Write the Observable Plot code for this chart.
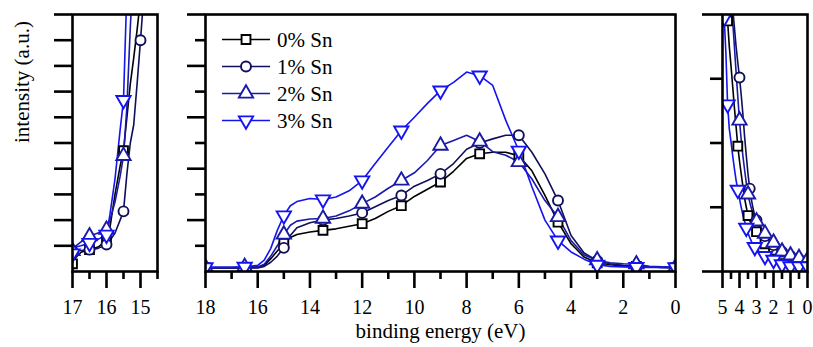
<!DOCTYPE html>
<html>
<head>
<meta charset="utf-8">
<script src="https://cdn.jsdelivr.net/npm/d3@7"></script>
<script src="https://cdn.jsdelivr.net/npm/@observablehq/plot@0.6"></script>
<style>
  html, body { margin: 0; padding: 0; background: #fff; }
  #chart { position: relative; width: 813px; height: 347px; overflow: hidden; }
  #chart > svg { position: absolute; top: 0; }
  #chart text { font-family: "Liberation Serif", "Times New Roman", serif; }
</style>
</head>
<body>
<div id="chart"></div>
<script>
// ---------------- data ----------------
const seriesNames = ["0% Sn", "1% Sn", "2% Sn", "3% Sn"];
const seriesColors = ["#000000", "#10105a", "#1a1aa8", "#1414f0"];

// main panel (binding energy in eV, intensity in a.u.)
const mainE = [18, 17.5, 17, 16.5, 16, 15.75, 15.5, 15.25, 15, 14.75, 14.5, 14, 13.5, 13, 12.5, 12, 11.5, 11, 10.5, 10, 9.5, 9, 8.5, 8, 7.5, 7, 6.5, 6, 5.5, 5, 4.5, 4, 3.5, 3, 2.5, 2, 1.5, 1, 0.5, 0];
const main0 = [0.07, 0.07, 0.07, 0.07, 0.08, 0.12, 0.25, 0.40, 0.55, 0.66, 0.72, 0.77, 0.80, 0.83, 0.88, 0.93, 1.03, 1.17, 1.28, 1.46, 1.60, 1.74, 1.95, 2.20, 2.29, 2.32, 2.32, 2.25, 1.96, 1.48, 0.96, 0.54, 0.28, 0.17, 0.13, 0.11, 0.10, 0.09, 0.08, 0.07];
const main1 = [0.07, 0.07, 0.07, 0.07, 0.07, 0.10, 0.18, 0.30, 0.46, 0.70, 0.85, 0.95, 1.00, 1.03, 1.08, 1.14, 1.26, 1.38, 1.48, 1.66, 1.77, 1.90, 2.10, 2.38, 2.50, 2.58, 2.65, 2.65, 2.32, 1.90, 1.38, 0.70, 0.36, 0.21, 0.15, 0.12, 0.10, 0.09, 0.08, 0.08];
const main2 = [0.08, 0.08, 0.08, 0.09, 0.09, 0.14, 0.30, 0.50, 0.72, 0.90, 0.98, 1.02, 1.03, 1.08, 1.18, 1.32, 1.45, 1.62, 1.77, 1.92, 2.16, 2.45, 2.55, 2.65, 2.53, 2.33, 2.26, 2.13, 1.80, 1.38, 1.06, 0.60, 0.32, 0.22, 0.17, 0.15, 0.14, 0.10, 0.09, 0.08];
const main3 = [0.08, 0.08, 0.08, 0.09, 0.12, 0.22, 0.45, 0.80, 1.09, 1.28, 1.36, 1.42, 1.40, 1.45, 1.57, 1.77, 2.10, 2.42, 2.74, 3.00, 3.27, 3.52, 3.68, 3.88, 3.81, 3.62, 2.94, 2.35, 1.65, 1.00, 0.60, 0.38, 0.24, 0.13, 0.10, 0.09, 0.085, 0.08, 0.08, 0.08];
const mainMarkE = [18, 16.5, 15, 13.5, 12, 10.5, 9, 7.5, 6, 4.5, 3, 1.5, 0];

// left inset (onset region, magnified intensity)
const leftE = [17, 16.9, 16.75, 16.5, 16.25, 16, 15.9, 15.75, 15.6, 15.5, 15.4, 15.3, 15.2, 15.1, 15, 14.9, 14.8];
const left0 = [0.30, 0.55, 0.75, 0.85, 0.95, 1.20, 1.70, 3.00, 4.10, 4.70, 6.00, 7.30, 8.30, 9.40, 10.6, 12.0, 13.0];
const left1 = [0.80, 0.80, 0.82, 0.85, 0.90, 1.05, 1.20, 1.50, 2.00, 2.34, 3.80, 5.00, 5.70, 7.30, 9.00, 10.8, 12.5];
const left2 = [0.80, 1.00, 1.15, 1.37, 1.50, 1.63, 2.00, 2.70, 3.70, 4.50, 6.40, 9.50, 12.0, 14.0, 15.0, 16.0, 17.0];
const left3 = [0.70, 0.95, 1.00, 1.11, 1.25, 1.43, 2.20, 3.60, 5.50, 6.67, 11.0, 14.0, 15.0, 16.0, 17.0, 18.0, 19.0];
const leftMarkE = [17, 16.5, 16, 15.5, 15];

// right inset (valence band edge, magnified intensity)
const rightE = [5.2, 5.0, 4.9, 4.8, 4.7, 4.6, 4.5, 4.4, 4.3, 4.2, 4.1, 4.0, 3.9, 3.8, 3.7, 3.6, 3.5, 3.4, 3.3, 3.2, 3.1, 3.0, 2.75, 2.5, 2.25, 2.0, 1.75, 1.5, 1.25, 1.0, 0.75, 0.5, 0.25, 0];
const right0 = [6.0, 5.2, 4.7, 4.3, 3.9, 3.5, 3.2, 2.88, 2.55, 2.25, 1.95, 1.72, 1.52, 1.33, 1.14, 1.00, 0.87, 0.80, 0.73, 0.68, 0.65, 0.62, 0.52, 0.43, 0.38, 0.33, 0.29, 0.26, 0.22, 0.19, 0.17, 0.14, 0.13, 0.12];
const right1 = [9.0, 8.0, 7.5, 6.5, 5.6, 4.9, 4.45, 4.1, 3.8, 3.5, 3.25, 3.02, 2.75, 2.45, 2.10, 1.80, 1.52, 1.29, 1.12, 0.98, 0.87, 0.80, 0.65, 0.55, 0.47, 0.41, 0.35, 0.31, 0.27, 0.24, 0.22, 0.19, 0.18, 0.17];
const right2 = [9.0, 7.5, 6.8, 6.0, 5.3, 4.7, 4.25, 3.9, 3.5, 3.1, 2.72, 2.35, 2.05, 1.80, 1.58, 1.38, 1.20, 1.08, 0.98, 0.90, 0.83, 0.78, 0.67, 0.59, 0.51, 0.45, 0.38, 0.31, 0.27, 0.25, 0.23, 0.21, 0.20, 0.18];
const right3 = [6.0, 4.4, 3.95, 3.4, 2.6, 2.22, 2.02, 1.80, 1.60, 1.42, 1.27, 1.13, 1.00, 0.88, 0.78, 0.68, 0.60, 0.53, 0.47, 0.42, 0.38, 0.35, 0.29, 0.24, 0.21, 0.18, 0.14, 0.11, 0.09, 0.08, 0.08, 0.08, 0.08, 0.08];
const rightMark0 = [4.7, 4.1, 3.5, 3.0, 2.5, 2.0, 1.5, 1.0, 0.5, 0];
const rightMark1 = [4.0, 3.4, 3.0, 2.5, 2.0, 1.5, 1.0, 0.5, 0];
const rightMark2 = [4.0, 3.5, 3.0, 2.5, 2.0, 1.5, 1.0, 0.5, 0];
const rightMark3 = [4.9, 4.7, 4.1, 3.6, 3.1, 2.5, 2.0, 1.5, 1.0, 0.5, 0];

// axis tick values
const mainXMajor = [18, 16, 14, 12, 10, 8, 6, 4, 2, 0];
const mainXMinor = [17, 15, 13, 11, 9, 7, 5, 3, 1];
const mainYMajor = [1, 2, 3, 4, 5];
const mainYMinor = [0.5, 1.5, 2.5, 3.5, 4.5];
const leftXMajor = [17, 16, 15];
const leftXMinor = [16.5, 15.5, 14.5];
const leftYTicks = [1, 2, 3, 4, 5, 6, 7, 8, 9, 10];
const rightXMajor = [5, 4, 3, 2, 1, 0];
const rightXMinor = [4.5, 3.5, 2.5, 1.5, 0.5];
const rightYLong = [0, 4];
const rightYShort = [1, 2, 3];

const xTitle = "binding energy (eV)";
const yTitle = "intensity (a.u.)";

// ---------------- helpers ----------------
const FONT = "Liberation Serif, Times New Roman, serif";
const AXW = 2.6;

const triDown = {
  draw(ctx, size) {
    const s3 = Math.sqrt(3);
    const y = Math.sqrt(size / (s3 * 3));
    ctx.moveTo(0, 2 * y);
    ctx.lineTo(s3 * y, -y);
    ctx.lineTo(-s3 * y, -y);
    ctx.closePath();
  }
};
const seriesSymbols = ["square", "circle", "triangle", triDown];
const d3Symbols = [d3.symbolSquare, d3.symbolCircle, d3.symbolTriangle, triDown];
const seriesR = [5, 5, 5.3, 5.3];

function rows(E, vals) { return E.map((e, i) => ({E: e, v: vals[i]})); }
function pick(E, vals, marks) {
  return marks.map(m => ({E: m, v: vals[E.indexOf(m)]})).filter(d => d.v !== undefined);
}

function panel(cfg) {
  const marks = [];
  cfg.lines.forEach((ln, i) => {
    marks.push(Plot.line(ln, {x: "E", y: "v", stroke: seriesColors[i], strokeWidth: 1.6, clip: true}));
  });
  cfg.dots.forEach((dt, i) => {
    marks.push(Plot.dot(dt, {x: "E", y: "v", symbol: seriesSymbols[i], r: seriesR[i], stroke: seriesColors[i], fill: "white", strokeWidth: 1.9, clip: true}));
  });
  marks.push(Plot.frame({stroke: "black", strokeWidth: AXW}));
  marks.push(Plot.axisX({ticks: cfg.xMajor, tickSize: 17, tickPadding: 11, strokeWidth: AXW, fontSize: 20, fontFamily: FONT, tickFormat: d => String(d), label: null, anchor: "bottom"}));
  marks.push(Plot.axisX({ticks: cfg.xMinor, tickSize: 8, tickFormat: () => "", strokeWidth: AXW, label: null, anchor: "bottom"}));
  cfg.yTicks.forEach(([ticks, len]) => {
    marks.push(Plot.axisY({ticks, tickSize: len, tickFormat: () => "", strokeWidth: AXW, label: null, anchor: "left"}));
  });
  if (cfg.extra) marks.push(...cfg.extra);
  const svg = Plot.plot({
    width: cfg.width, height: 347,
    marginLeft: cfg.marginLeft, marginRight: cfg.marginRight, marginTop: 14, marginBottom: 76,
    x: {domain: cfg.xDomain, label: null},
    y: {domain: cfg.yDomain, label: null},
    style: {fontFamily: FONT, background: "transparent", overflow: "visible", color: "black"},
    marks
  });
  svg.style.left = cfg.left + "px";
  return svg;
}

const chart = document.getElementById("chart");

const mainVals = [main0, main1, main2, main3];
chart.appendChild(panel({
  left: 160, width: 540, marginLeft: 45, marginRight: 25,
  xDomain: [18, 0], yDomain: [0, 5],
  lines: mainVals.map(v => rows(mainE, v)),
  dots: mainVals.map(v => pick(mainE, v, mainMarkE)),
  xMajor: mainXMajor, xMinor: mainXMinor,
  yTicks: [[mainYMajor, 18], [mainYMinor, 10]],
  extra: [Plot.text([xTitle], {frameAnchor: "bottom", dy: 66, fontSize: 21, fontFamily: FONT, text: d => d})]
}));

const leftVals = [left0, left1, left2, left3];
chart.appendChild(panel({
  left: 0, width: 170, marginLeft: 72, marginRight: 13,
  xDomain: [17, 14.5], yDomain: [0, 10],
  lines: leftVals.map(v => rows(leftE, v)),
  dots: leftVals.map(v => pick(leftE, v, leftMarkE)),
  xMajor: leftXMajor, xMinor: leftXMinor,
  yTicks: [[leftYTicks, 18]],
  extra: [Plot.text([yTitle], {frameAnchor: "left", dx: -50, rotate: -90, fontSize: 21, fontFamily: FONT, text: d => d})]
}));

const rightVals = [right0, right1, right2, right3];
const rightMarks = [rightMark0, rightMark1, rightMark2, rightMark3];
chart.appendChild(panel({
  left: 700, width: 113, marginLeft: 22, marginRight: 6,
  xDomain: [5, 0], yDomain: [0, 4],
  lines: rightVals.map(v => rows(rightE, v)),
  dots: rightVals.map((v, i) => pick(rightE, v, rightMarks[i])),
  xMajor: rightXMajor, xMinor: rightXMinor,
  yTicks: [[rightYLong, 20], [rightYShort, 12]]
}));

// legend overlay (inside main panel, top-left)
const leg = d3.create("svg").attr("width", 813).attr("height", 347)
  .style("left", "0px").style("pointer-events", "none");
const items = leg.selectAll("g").data(seriesNames).join("g")
  .attr("transform", (d, i) => `translate(222,${39.5 + i * 27})`);
items.append("line").attr("x1", 0).attr("x2", 48).attr("y1", 0).attr("y2", 0)
  .attr("stroke", (d, i) => seriesColors[i]).attr("stroke-width", 1.6);
items.append("path").attr("transform", "translate(24,0)")
  .attr("d", (d, i) => d3.symbol(d3Symbols[i], Math.PI * seriesR[i] * seriesR[i])())
  .attr("fill", "white").attr("stroke", (d, i) => seriesColors[i]).attr("stroke-width", 1.9);
items.append("text").attr("x", 55).attr("y", 0).attr("dy", "0.35em")
  .attr("font-family", FONT).attr("font-size", 21).attr("fill", "black")
  .text(d => d);
chart.appendChild(leg.node());
</script>
</body>
</html>
